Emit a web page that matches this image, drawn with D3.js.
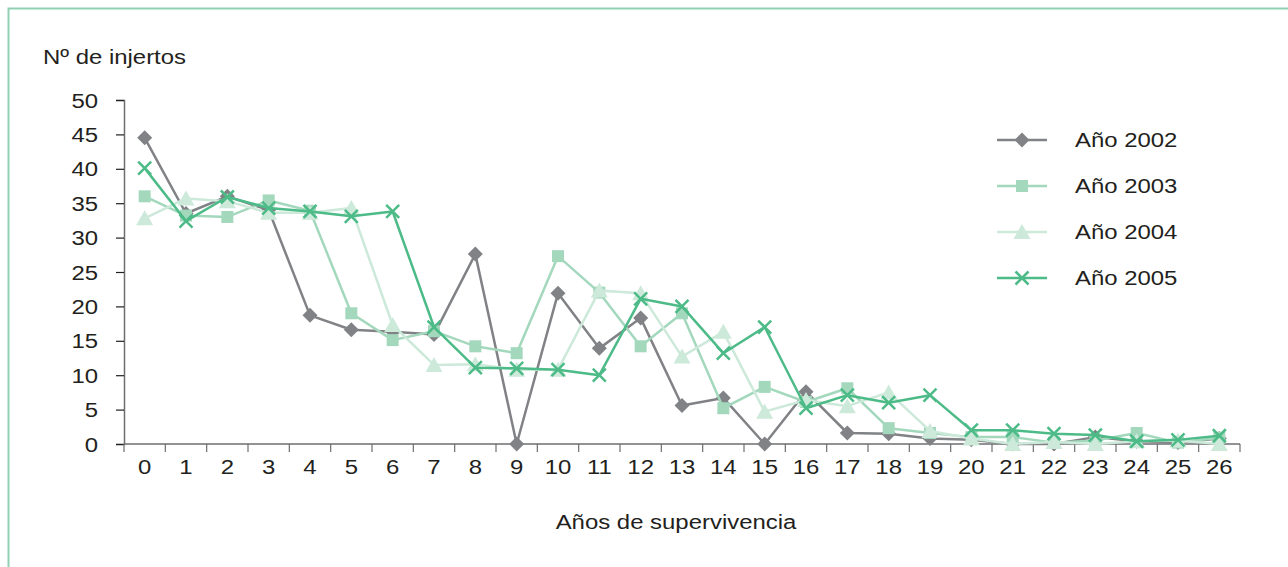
<!DOCTYPE html>
<html>
<head>
<meta charset="utf-8">
<script src="https://cdn.jsdelivr.net/npm/d3@7"></script>
<style>
  html, body { margin: 0; padding: 0; background: #fff; }
  svg { display: block; }
  text { font-family: "Liberation Sans", Arial, sans-serif; fill: #231f20; }
</style>
</head>
<body>
<svg id="chart" width="1288" height="567"></svg>
<script>
// Years of graft survival (0..26)
const years = d3.range(0, 27);
const yTicks = [0, 5, 10, 15, 20, 25, 30, 35, 40, 45, 50];

// Number of grafts per cohort
const serie2002 = [44.5, 33.5, 36, 34, 18.7, 16.6, 16.3, 15.9, 27.6, 0, 21.9, 13.9, 18.3, 5.6, 6.7, 0, 7.6, 1.6, 1.5, 0.8, 0.6, 0, 0, 1, 0.4, 0.2, 0.8];
const serie2003 = [36, 33.2, 33, 35.4, 33.9, 19, 15.1, 16.4, 14.2, 13.2, 27.3, 22, 14.2, 19, 5.2, 8.3, 6.1, 8.1, 2.3, 1.6, 1, 1, 0.2, 0.5, 1.6, 0.2, 0.9];
const serie2004 = [32.8, 35.7, 35.3, 33.6, 33.6, 34.3, 17.3, 11.5, 11.6, 10.8, 10.8, 22.3, 21.9, 12.7, 16.3, 4.7, 6.4, 5.5, 7.5, 1.9, 0.8, 0, 0.3, 0, 0.4, 0.5, 0];
const serie2005 = [40.1, 32.4, 35.9, 34.3, 33.8, 33.1, 33.8, 17, 11.1, 11, 10.8, 10, 21.1, 20, 13.2, 17, 5.2, 7.1, 6, 7.1, 2, 2, 1.5, 1.3, 0.4, 0.6, 1.2];

const seriesNames = ["Año 2002", "Año 2003", "Año 2004", "Año 2005"];
const seriesValues = [serie2002, serie2003, serie2004, serie2005];
const seriesColors = ["#808285", "#a3d8bd", "#cce9da", "#4dbb87"];
const seriesSymbols = ["diamond", "square", "triangle", "cross"];

const FONT = 21;
const STRETCH = 1.14;

const svg = d3.select("#chart");

// Horizontally widened label anchored at (px, py)
function label(parent, px, py, txt, anchor) {
  return parent.append("text")
    .attr("transform", `translate(${px},${py}) scale(${STRETCH},1)`)
    .attr("text-anchor", anchor || "start")
    .attr("font-size", FONT)
    .text(txt);
}

// Frame
svg.append("rect")
  .attr("x", 8.5).attr("y", 8.5)
  .attr("width", 1400).attr("height", 700)
  .attr("fill", "none")
  .attr("stroke", "#8fd1b1")
  .attr("stroke-width", 2);

const plot = { left: 124, right: 1240, top: 100, bottom: 444 };

const x = d3.scaleBand().domain(years).range([plot.left, plot.right]);
const y = d3.scaleLinear().domain([0, 50]).range([plot.bottom, plot.top]);

const axisColor = "#6d6e71";

// Y axis
const yAxis = svg.append("g")
  .attr("transform", `translate(${plot.left},0)`)
  .call(d3.axisLeft(y).tickValues(yTicks).tickSize(8));
yAxis.select(".domain").attr("stroke", axisColor).attr("stroke-width", 1.5);
yAxis.selectAll(".tick line").attr("stroke", "#231f20").attr("stroke-width", 1.2);
yAxis.selectAll(".tick text").remove();
yAxis.selectAll(".tick").each(function (d) {
  label(d3.select(this), -26, 7, d, "end");
});

// X axis: ticks at category boundaries, labels centred in each band
const xAxisG = svg.append("g").attr("transform", `translate(0,${plot.bottom})`);
xAxisG.append("line")
  .attr("x1", plot.left).attr("x2", plot.right)
  .attr("y1", 0).attr("y2", 0)
  .attr("stroke", axisColor).attr("stroke-width", 1.5);
const boundaries = years.map(d => x(d)).concat([plot.right]);
xAxisG.selectAll("line.tick")
  .data(boundaries)
  .join("line")
  .attr("class", "tick")
  .attr("x1", d => d).attr("x2", d => d)
  .attr("y1", 0).attr("y2", 8)
  .attr("stroke", axisColor).attr("stroke-width", 1.2);
years.forEach(d => {
  label(xAxisG, x(d) + x.bandwidth() / 2, 30, d, "middle");
});

// Axis titles
label(svg, 43, 64, "Nº de injertos");
label(svg, 676, 529, "Años de supervivencia", "middle");

// Marker drawing
function drawMarker(g, type, color) {
  if (type === "diamond") {
    g.append("path").attr("d", "M0,-7.5L7.5,0L0,7.5L-7.5,0Z").attr("fill", color);
  } else if (type === "square") {
    g.append("rect").attr("x", -6).attr("y", -6).attr("width", 12).attr("height", 12).attr("fill", color);
  } else if (type === "triangle") {
    g.append("path").attr("d", "M0,-8L8.5,7L-8.5,7Z").attr("fill", color);
  } else {
    g.append("path").attr("d", "M-6.5,-6.5L6.5,6.5M-6.5,6.5L6.5,-6.5")
      .attr("stroke", color).attr("stroke-width", 2.5).attr("fill", "none");
  }
}

const cx = d => x(d) + x.bandwidth() / 2;

const line = d3.line()
  .x((d, i) => cx(years[i]))
  .y(d => y(d));

seriesValues.forEach((vals, s) => {
  const g = svg.append("g");
  g.append("path")
    .datum(vals)
    .attr("d", line)
    .attr("fill", "none")
    .attr("stroke", seriesColors[s])
    .attr("stroke-width", 2.5)
    .attr("stroke-linejoin", "round");
  g.selectAll("g.m")
    .data(vals)
    .join("g")
    .attr("class", "m")
    .attr("transform", (d, i) => `translate(${cx(years[i])},${y(d)})`)
    .each(function () { drawMarker(d3.select(this), seriesSymbols[s], seriesColors[s]); });
});

// Legend
const legend = svg.append("g");
seriesNames.forEach((name, s) => {
  const ly = 140 + s * 46;
  legend.append("line")
    .attr("x1", 997).attr("x2", 1047)
    .attr("y1", ly).attr("y2", ly)
    .attr("stroke", seriesColors[s]).attr("stroke-width", 2.5);
  const m = legend.append("g").attr("transform", `translate(1022,${ly})`);
  drawMarker(m, seriesSymbols[s], seriesColors[s]);
  label(legend, 1075, ly + 7, name);
});
</script>
</body>
</html>
